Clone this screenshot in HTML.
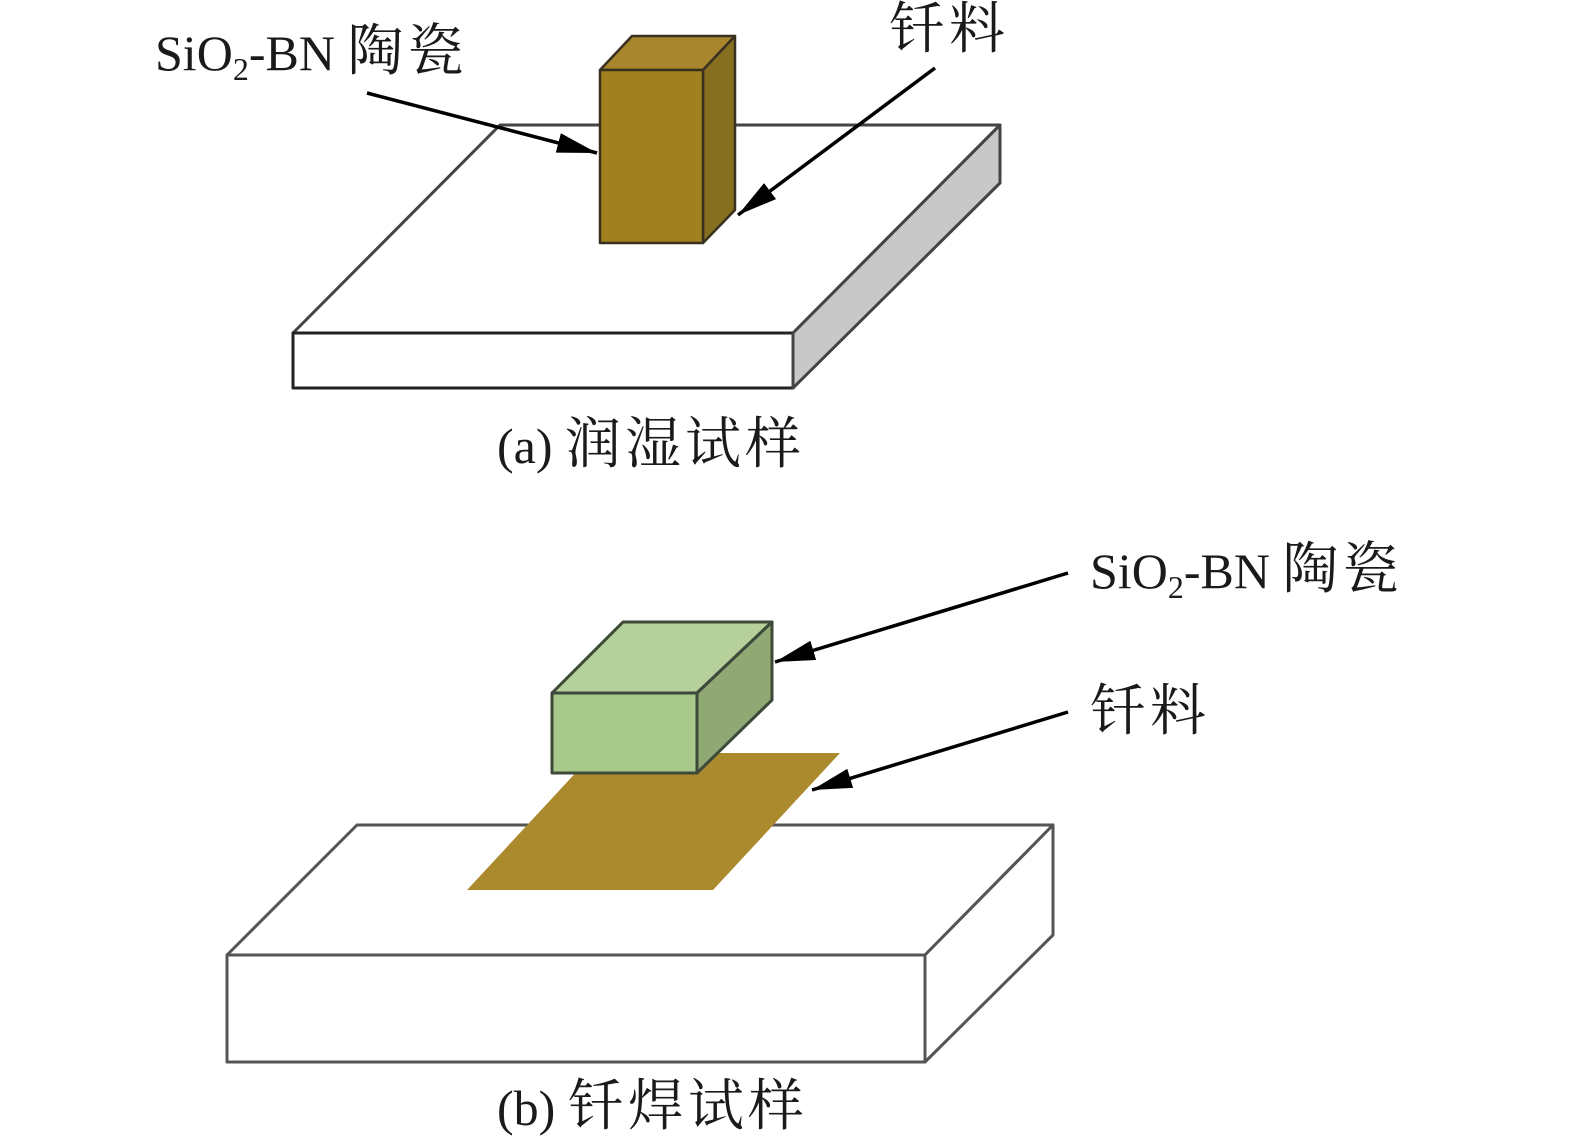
<!DOCTYPE html>
<html><head><meta charset="utf-8"><style>
html,body{margin:0;padding:0;background:#fff}
svg{display:block}
text{font-family:"Liberation Serif","Noto Serif CJK SC",serif;fill:#1a1a1a}
.c{font-size:56px;letter-spacing:4px}
</style></head><body>
<svg width="1575" height="1148" viewBox="0 0 1575 1148" xmlns="http://www.w3.org/2000/svg">
<defs>
<marker id="ah2" viewBox="0 0 40 20" markerWidth="40" markerHeight="20" refX="40" refY="10" orient="auto" markerUnits="userSpaceOnUse">
<path d="M0,0 L40,10 L0,20 Z" fill="#000"/>
</marker>
</defs>
<g stroke="#444" stroke-width="3" stroke-linejoin="round">
<polygon points="500,125 1000,125 793,333 293,333" fill="#fff"/>
<polygon points="293,333 793,333 793,388 293,388" fill="#fff" stroke="#222"/>
<polygon points="793,333 1000,125 1000,183 793,388" fill="#c8c8c8"/>
</g>
<g stroke="#3a3020" stroke-width="2.5" stroke-linejoin="round">
<polygon points="600,70 632,36 735,36 703,70" fill="#a8862e"/>
<polygon points="703,70 735,36 735,210 703,243" fill="#86701f"/>
<polygon points="600,70 703,70 703,243 600,243" fill="#a0801f"/>
</g>
<text x="155" y="70" font-size="50">SiO<tspan font-size="32" dy="10">2</tspan><tspan dy="-10">-BN  </tspan><tspan class="c">陶瓷</tspan></text>
<text x="889" y="48" class="c">钎料</text>
<line x1="367" y1="93" x2="597" y2="153" stroke="#000" stroke-width="3.5" marker-end="url(#ah2)"/>
<line x1="935" y1="68" x2="738" y2="215" stroke="#000" stroke-width="3.5" marker-end="url(#ah2)"/>
<text x="497" y="463" font-size="50">(a) <tspan class="c">润湿试样</tspan></text>

<g stroke="#555" stroke-width="3" stroke-linejoin="round">
<polygon points="357,825 1053,825 925,955 227,955" fill="#fff"/>
<polygon points="227,955 925,955 925,1062 227,1062" fill="#fff"/>
<polygon points="925,955 1053,825 1053,935 925,1062" fill="#fff"/>
</g>
<polygon points="467,890 713,890 840,753 594,753" fill="#ab8a2e"/>
<g stroke="#3d4a3a" stroke-width="3" stroke-linejoin="round">
<polygon points="552,693 623,622 772,622 697,693" fill="#b5d09a"/>
<polygon points="697,693 772,622 772,700 697,773" fill="#8fa874"/>
<polygon points="552,693 697,693 697,773 552,773" fill="#a8c98a"/>
</g>
<text x="1090" y="588" font-size="50">SiO<tspan font-size="32" dy="10">2</tspan><tspan dy="-10">-BN  </tspan><tspan class="c">陶瓷</tspan></text>
<text x="1090" y="730" class="c">钎料</text>
<line x1="1068" y1="573" x2="775" y2="662" stroke="#000" stroke-width="3.5" marker-end="url(#ah2)"/>
<line x1="1068" y1="712" x2="812" y2="790" stroke="#000" stroke-width="3.5" marker-end="url(#ah2)"/>
<text x="497" y="1125" font-size="50">(b) <tspan class="c">钎焊试样</tspan></text>
</svg>
</body></html>
